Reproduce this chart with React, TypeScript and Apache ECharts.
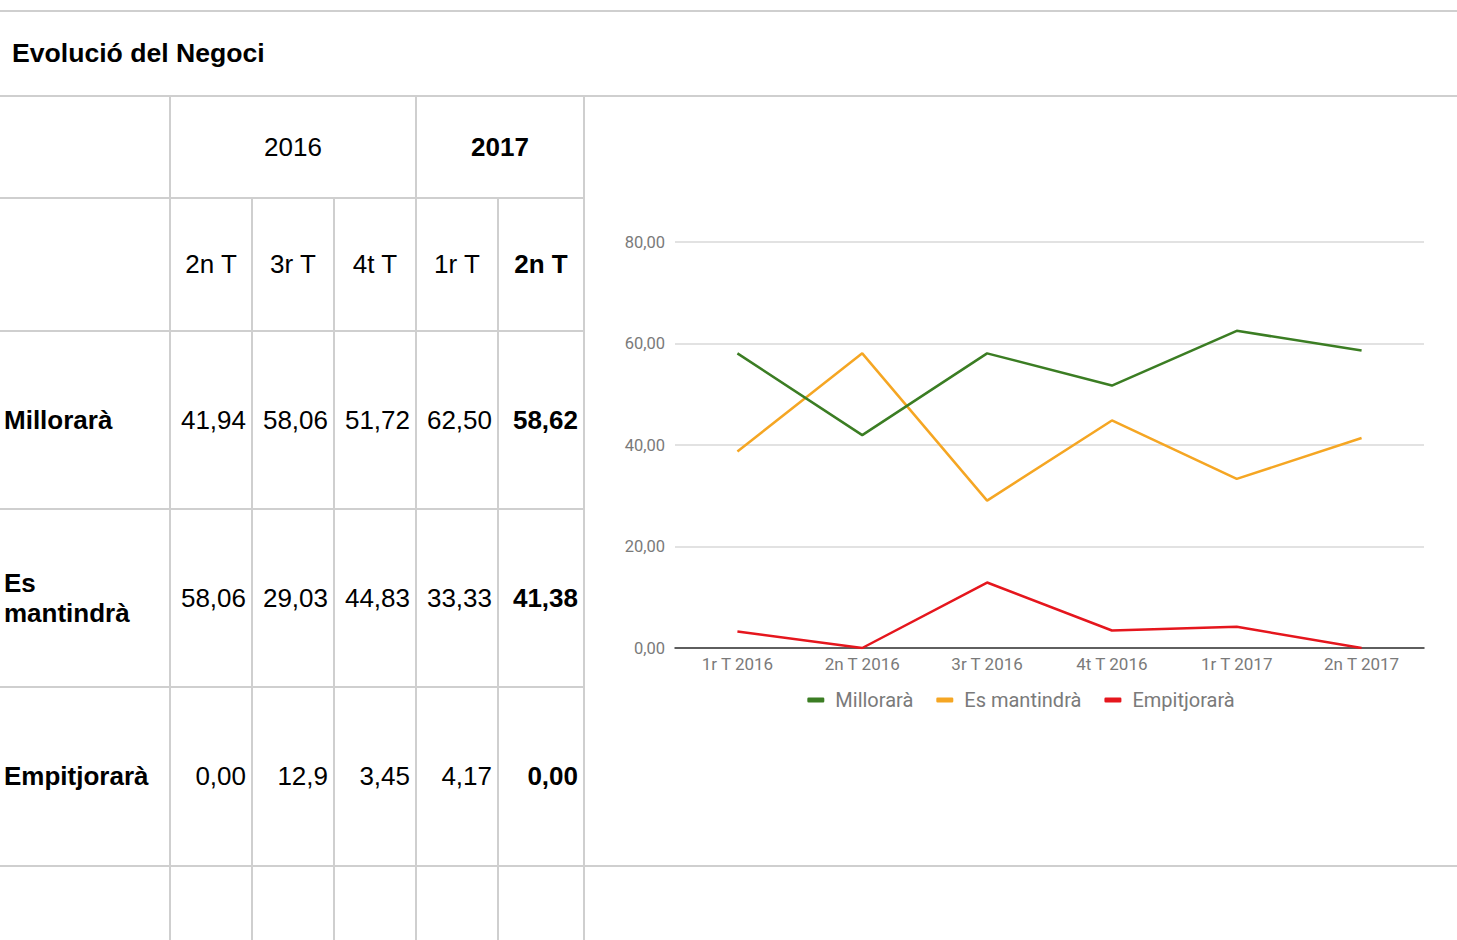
import React, { useEffect, useRef } from "react";
import * as echarts from "echarts";

// ---------- data ----------
const chartTitle = "Evolució del Negoci";
const chartCategories = ["1r T 2016", "2n T 2016", "3r T 2016", "4t T 2016", "1r T 2017", "2n T 2017"];
const seriesNames = ["Millorarà", "Es mantindrà", "Empitjorarà"];
const millorara = [58.06, 41.94, 58.06, 51.72, 62.5, 58.62];
const esMantindra = [38.71, 58.06, 29.03, 44.83, 33.33, 41.38];
const empitjorara = [3.23, 0.0, 12.9, 3.45, 4.17, 0.0];
const yTicks = [0, 20, 40, 60, 80];

const yearHeaders = ["2016", "2017"];
const quarterHeaders = ["2n T", "3r T", "4t T", "1r T", "2n T"];
const tableMillorara = ["41,94", "58,06", "51,72", "62,50", "58,62"];
const tableEsMantindra = ["58,06", "29,03", "44,83", "33,33", "41,38"];
const tableEmpitjorara = ["0,00", "12,9", "3,45", "4,17", "0,00"];

const seriesColors = ["#3b7d23", "#f5a623", "#e5161d"];

// ---------- layout ----------
const colX = [0, 170, 252, 334, 416, 498, 584];
const rowY = [96, 198, 331, 509, 687, 866, 960];
const BORDER = "#cfcfcf";
const TABLE_FONT = '"Liberation Sans", Arial, Helvetica, sans-serif';

function HLine({ y, x1, x2 }: { y: number; x1: number; x2: number }) {
  return (
    <div style={{ position: "absolute", left: x1, top: y - 1, width: x2 - x1, height: 2, background: BORDER }} />
  );
}
function VLine({ x, y1, y2 }: { x: number; y1: number; y2: number }) {
  return (
    <div style={{ position: "absolute", left: x - 1, top: y1, width: 2, height: y2 - y1, background: BORDER }} />
  );
}

function Cell({
  x1, x2, y1, y2, text, bold, align,
}: {
  x1: number; x2: number; y1: number; y2: number; text: string; bold?: boolean; align: "left" | "center" | "right";
}) {
  return (
    <div
      style={{
        position: "absolute",
        left: x1,
        top: y1,
        width: x2 - x1,
        height: y2 - y1,
        display: "flex",
        alignItems: "center",
        justifyContent: align === "left" ? "flex-start" : align === "right" ? "flex-end" : "center",
        boxSizing: "border-box",
        paddingLeft: align === "left" ? 4 : 0,
        paddingRight: align === "right" ? 6 : 0,
        paddingBottom: 1,
        fontFamily: TABLE_FONT,
        fontSize: 26,
        lineHeight: "30px",
        fontWeight: bold ? "bold" : "normal",
        color: "#000",
      }}
    >
      <span style={{ maxWidth: align === "left" ? 152 : undefined, display: "inline-block" }}>{text}</span>
    </div>
  );
}

function Chart() {
  const ref = useRef<HTMLDivElement>(null);
  useEffect(() => {
    if (!ref.current) return;
    const chart = echarts.init(ref.current, null, { renderer: "svg" });
    const fmt = (v: number) => v.toFixed(2).replace(".", ",");
    const dataSets = [millorara, esMantindra, empitjorara];
    chart.setOption({
      animation: false,
      textStyle: { fontFamily: "Roboto, sans-serif" },
      grid: { left: 90, right: 33, top: 145, bottom: 218, containLabel: false },
      legend: {
        top: 588,
        left: "center",
        icon: "roundRect",
        itemWidth: 17,
        itemHeight: 5,
        itemGap: 23,
        textStyle: { color: "#7a7a7a", fontSize: 20, fontFamily: "Roboto, sans-serif", padding: [0, 0, 0, 6] },
        data: seriesNames,
      },
      xAxis: {
        type: "category",
        data: chartCategories,
        boundaryGap: true,
        axisLine: { show: true, lineStyle: { color: "#333333", width: 1.5 } },
        axisTick: { show: false },
        axisLabel: { color: "#7a7a7a", fontSize: 17, margin: 7, interval: 0 },
        splitLine: { show: false },
      },
      yAxis: {
        type: "value",
        min: yTicks[0],
        max: yTicks[yTicks.length - 1],
        interval: 20,
        axisLine: { show: false },
        axisTick: { show: false },
        axisLabel: { color: "#7a7a7a", fontSize: 16.5, margin: 10, formatter: fmt },
        splitLine: { show: true, lineStyle: { color: "#d9d9d9", width: 1.5 } },
      },
      series: seriesNames.map((name, i) => ({
        name,
        type: "line",
        data: dataSets[i],
        showSymbol: false,
        symbol: "none",
        lineStyle: { color: seriesColors[i], width: 2.5 },
        itemStyle: { color: seriesColors[i] },
        z: 3 + (2 - i),
      })),
    });
    return () => chart.dispose();
  }, []);
  return <div ref={ref} style={{ position: "absolute", left: 585, top: 97, width: 872, height: 769 }} />;
}

export default function App() {
  const rowLabels = seriesNames;
  const rowValues = [tableMillorara, tableEsMantindra, tableEmpitjorara];
  return (
    <div
      style={{
        position: "fixed",
        left: 0,
        top: 0,
        width: 1457,
        height: 940,
        background: "#fff",
        overflow: "hidden",
      }}
    >
      {/* title */}
      <HLine y={11} x1={0} x2={1457} />
      <div
        style={{
          position: "absolute",
          left: 12,
          top: 38,
          fontFamily: TABLE_FONT,
          fontSize: 26.6,
          lineHeight: "30px",
          fontWeight: "bold",
          color: "#000",
        }}
      >
        {chartTitle}
      </div>

      {/* header rows */}
      <Cell x1={colX[1]} x2={colX[4]} y1={rowY[0]} y2={rowY[1]} text={yearHeaders[0]} align="center" />
      <Cell x1={colX[4]} x2={colX[6]} y1={rowY[0]} y2={rowY[1]} text={yearHeaders[1]} align="center" bold />
      {quarterHeaders.map((q, i) => (
        <Cell
          key={"q" + i}
          x1={colX[i + 1]}
          x2={colX[i + 2]}
          y1={rowY[1]}
          y2={rowY[2]}
          text={q}
          align="center"
          bold={i === quarterHeaders.length - 1}
        />
      ))}

      {/* data rows */}
      {rowLabels.map((label, r) => (
        <React.Fragment key={"r" + r}>
          <Cell x1={colX[0]} x2={colX[1]} y1={rowY[r + 2]} y2={rowY[r + 3]} text={label} align="left" bold />
          {rowValues[r].map((v, c) => (
            <Cell
              key={"v" + r + "_" + c}
              x1={colX[c + 1]}
              x2={colX[c + 2]}
              y1={rowY[r + 2]}
              y2={rowY[r + 3]}
              text={v}
              align="right"
              bold={c === rowValues[r].length - 1}
            />
          ))}
        </React.Fragment>
      ))}

      <Chart />

      {/* borders */}
      <HLine y={rowY[0]} x1={0} x2={1457} />
      <HLine y={rowY[1]} x1={0} x2={colX[6]} />
      <HLine y={rowY[2]} x1={0} x2={colX[6]} />
      <HLine y={rowY[3]} x1={0} x2={colX[6]} />
      <HLine y={rowY[4]} x1={0} x2={colX[6]} />
      <HLine y={rowY[5]} x1={0} x2={1457} />
      <VLine x={colX[1]} y1={rowY[0]} y2={940} />
      <VLine x={colX[4]} y1={rowY[0]} y2={940} />
      <VLine x={colX[6]} y1={rowY[0]} y2={940} />
      <VLine x={colX[2]} y1={rowY[1]} y2={940} />
      <VLine x={colX[3]} y1={rowY[1]} y2={940} />
      <VLine x={colX[5]} y1={rowY[1]} y2={940} />
    </div>
  );
}
